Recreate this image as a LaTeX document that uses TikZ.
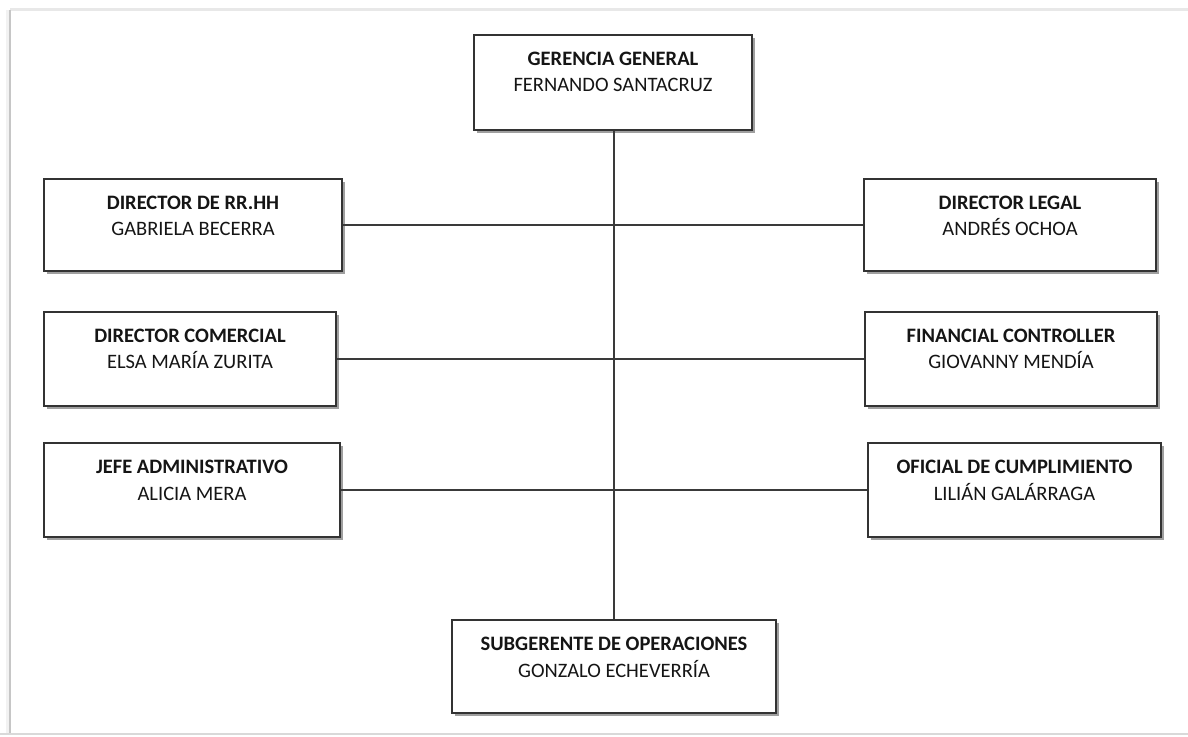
\documentclass[tikz,border=0pt]{standalone}
\usepackage{fontspec}
\setmainfont{Carlito}
\usetikzlibrary{shadows}

\definecolor{boxline}{HTML}{333333}
\definecolor{linkline}{HTML}{3A3A3A}
\definecolor{txt}{HTML}{151515}

\tikzset{
  orgbox/.style={
    draw=boxline, line width=1.3pt, fill=white, rectangle,
    inner sep=0pt, minimum height=94pt,
    drop shadow={shadow xshift=3pt, shadow yshift=-3pt, fill=gray!75, opacity=1}
  },
  boxtext/.style={
    anchor=north, yshift=-17.5pt, inner sep=0pt, align=center,
    text=txt, font=\fontsize{20.5}{26.5}\selectfont
  },
  link/.style={draw=linkline, line width=1.8pt}
}

\begin{document}
\begin{tikzpicture}[x=1pt, y=-1pt]
  \useasboundingbox (0,0) rectangle (1188,736);
  \fill[white] (0,0) rectangle (1188,736);

  % page edge with its soft shadow
  \fill[gray!10] (6,10) rectangle (11,734);
  \draw[gray!18, line width=3pt] (10,9) -- (1188,9);
  \draw[gray!45, line width=1.2pt] (10,10) -- (10,734);
  \draw[gray!30, line width=2pt] (0,734) -- (1188,734);

  % boxes
  \node[orgbox, minimum width=278pt, minimum height=95pt] (ger) at (613,82.5) {};
  \node[orgbox, minimum width=298pt, minimum height=92pt] (rrhh) at (193,225) {};
  \node[orgbox, minimum width=292pt, minimum height=92pt] (legal) at (1010,225) {};
  \node[orgbox, minimum width=292pt] (com) at (190,359) {};
  \node[orgbox, minimum width=292pt] (fin) at (1011,359) {};
  \node[orgbox, minimum width=296pt] (jefe) at (192,490) {};
  \node[orgbox, minimum width=293pt] (ofi) at (1014.5,490) {};
  \node[orgbox, minimum width=324pt, minimum height=93pt] (sub) at (614,666.5) {};

  % connectors
  \draw[link] (rrhh) -- (legal);
  \draw[link] (com) -- (fin);
  \draw[link] (jefe) -- (ofi);
  \draw[link] (ger.south -| sub.north) -- (sub.north);

  % captions: title in bold, name below
  \node[boxtext] (ger-t)   at (ger.north)   {\textbf{GERENCIA GENERAL}\\FERNANDO SANTACRUZ};
  \node[boxtext] (rrhh-t)  at (rrhh.north)  {\textbf{DIRECTOR DE RR.HH}\\GABRIELA BECERRA};
  \node[boxtext] (legal-t) at (legal.north) {\textbf{DIRECTOR LEGAL}\\ANDRÉS OCHOA};
  \node[boxtext] (com-t)   at (com.north)   {\textbf{DIRECTOR COMERCIAL}\\ELSA MARÍA ZURITA};
  \node[boxtext] (fin-t)   at (fin.north)   {\textbf{FINANCIAL CONTROLLER}\\GIOVANNY MENDÍA};
  \node[boxtext] (jefe-t)  at (jefe.north)  {\textbf{JEFE ADMINISTRATIVO}\\ALICIA MERA};
  \node[boxtext] (ofi-t)   at (ofi.north)   {\textbf{OFICIAL DE CUMPLIMIENTO}\\LILIÁN GALÁRRAGA};
  \node[boxtext] (sub-t)   at (sub.north)   {\textbf{SUBGERENTE DE OPERACIONES}\\GONZALO ECHEVERRÍA};
\end{tikzpicture}
\end{document}
